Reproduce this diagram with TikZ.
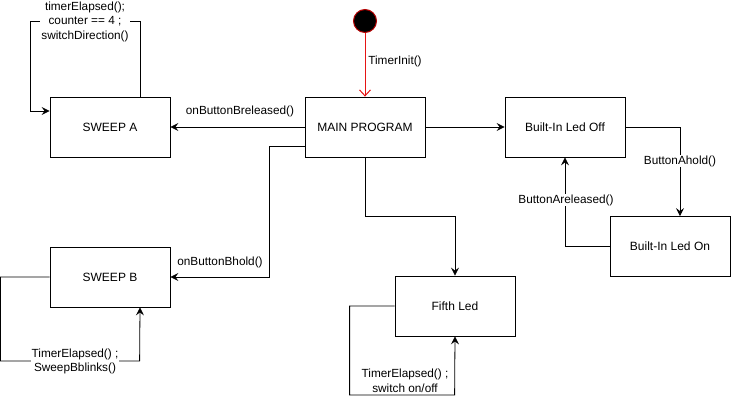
\documentclass[tikz,border=0pt]{standalone}
\usepackage{fontspec}
\setmainfont{Liberation Sans}
\usetikzlibrary{arrows.meta,calc}
\begin{document}
\begin{tikzpicture}[x=1pt,y=-1pt,
  state/.style={draw,line width=0.8pt,rectangle,minimum width=120pt,minimum height=60pt,inner sep=0pt,font=\fontsize{12}{14}\selectfont},
  lbl/.style={fill=white,inner sep=1pt,align=center,font=\fontsize{11.8}{14.5}\selectfont},
  arr/.style={line width=0.8pt,-{Stealth[length=8pt,width=8pt,inset=3pt]}},
  redarr/.style={line width=0.8pt,draw={rgb,255:red,230;green,20;blue,20},-{Straight Barb[length=6pt,width=11pt,line width=1pt]}}]
\useasboundingbox (0,0) rectangle (731,406);
\node[circle,fill=black,draw={rgb,255:red,180;green,0;blue,0},line width=1pt,minimum size=23pt,inner sep=0pt] (init) at (365,21) {};
\node[state] (main) at (365,127) {MAIN PROGRAM};
\node[state] (swa) at (110,127) {SWEEP A};
\node[state] (swb) at (110,277) {SWEEP B};
\node[state] (fifth) at (455,306) {Fifth Led};
\node[state] (off) at (565,127) {Built-In Led Off};
\node[state] (on) at (670,246.5) {Built-In Led On};

\draw[redarr] (init) -- (main.north);
\node[lbl,fill=none] (l1) at (395,61) {TimerInit()};

\draw[arr] (main.west) -- (swa.east);
\node[lbl] (l2) at (240,111) {onButtonBreleased()};

\draw[arr] ([xshift=30pt]swa.north) -- ++(0,-75) -- ++(-110,0) |- ([yshift=16pt]swa.west);
\node[lbl] (l3) at (85,21.5) {timerElapsed();\\counter == 4 ;\\switchDirection()};

\draw[arr] ([yshift=-19pt]main.west) -- ++(-35,0) |- (swb.east);
\node[lbl,fill=none] (l4) at (220,262) {onButtonBhold()};

\draw[arr] (swb.west) -- ++(-49,0) |- ++(139,84) -- ([xshift=30pt]swb.south);
\node[lbl] (l5) at (75,361.5) {TimerElapsed() ;\\SweepBblinks()};

\draw[arr] (main.south) -- ++(0,59) -| (fifth.north);

\draw[arr] (fifth.west) -- ++(-45,0) |- ++(105,89) -- (fifth.south);
\node[lbl,fill=none] (l6) at (405,381) {TimerElapsed() ;\\switch on/off};

\draw[arr] (main.east) -- (off.west);

\draw[arr] (off.east) -| ([xshift=10pt]on.north);
\node[lbl] (l7) at (680,161) {ButtonAhold()};

\draw[arr] (on.west) -| (off.south);
\node[lbl] (l8) at (566,200) {ButtonAreleased()};
\end{tikzpicture}
\end{document}
